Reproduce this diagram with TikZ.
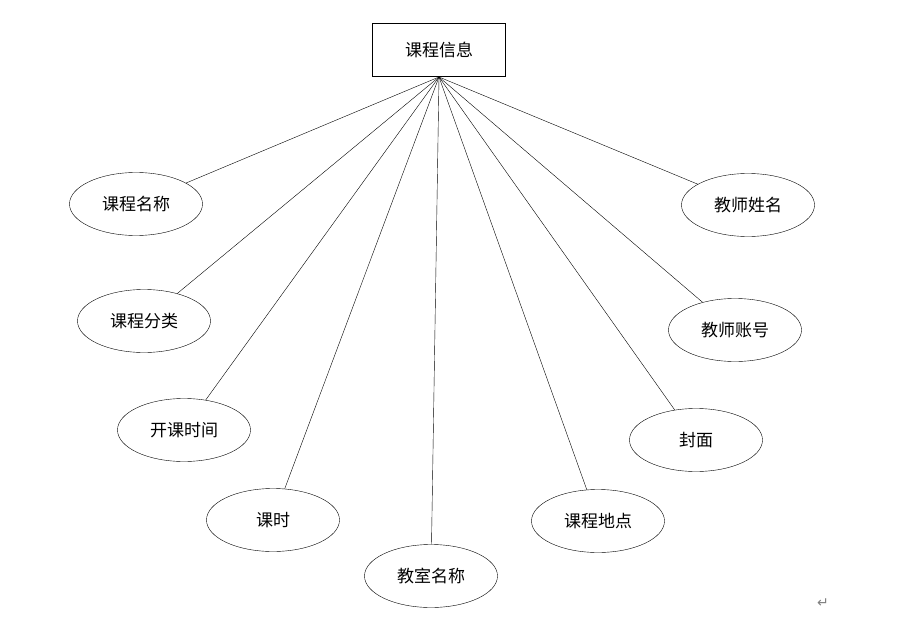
\documentclass[tikz,border=0pt]{standalone}
\usepackage{fontspec}
\newfontfamily\cjk{Noto Sans CJK SC}
\newfontfamily\symfont{DejaVu Sans}
\usetikzlibrary{shapes.geometric}
\begin{document}
\begin{tikzpicture}[x=1pt, y=-1pt,
    attr/.style={draw, ellipse, inner sep=0pt, minimum width=133pt, minimum height=63pt, font=\cjk\fontsize{17}{20}\selectfont},
    entity/.style={draw, rectangle, inner sep=0pt, minimum width=133pt, minimum height=53pt, font=\cjk\fontsize{17}{20}\selectfont}]
    \useasboundingbox (0,0) rectangle (912,618);
    \node[entity] (course) at (439, 50) {课程信息};
    \coordinate (hub) at (439, 77);

    \node[attr] (name)     at (136, 204) {课程名称};
    \node[attr] (category) at (144, 321) {课程分类};
    \node[attr] (opentime) at (184, 430) {开课时间};
    \node[attr] (hours)    at (273, 520) {课时};
    \node[attr] (room)     at (431, 576) {教室名称};
    \node[attr] (place)    at (598, 521) {课程地点};
    \node[attr] (cover)    at (696, 440) {封面};
    \node[attr] (account)  at (735, 330) {教师账号};
    \node[attr] (teacher)  at (748, 205) {教师姓名};

    \foreach \a in {name, category, opentime, hours, room, place, cover, account, teacher}
        \draw (hub) -- (\a);

    \node[text=gray, font=\symfont\fontsize{14}{16}\selectfont] (mark) at (823, 603) {↵};
\end{tikzpicture}
\end{document}
